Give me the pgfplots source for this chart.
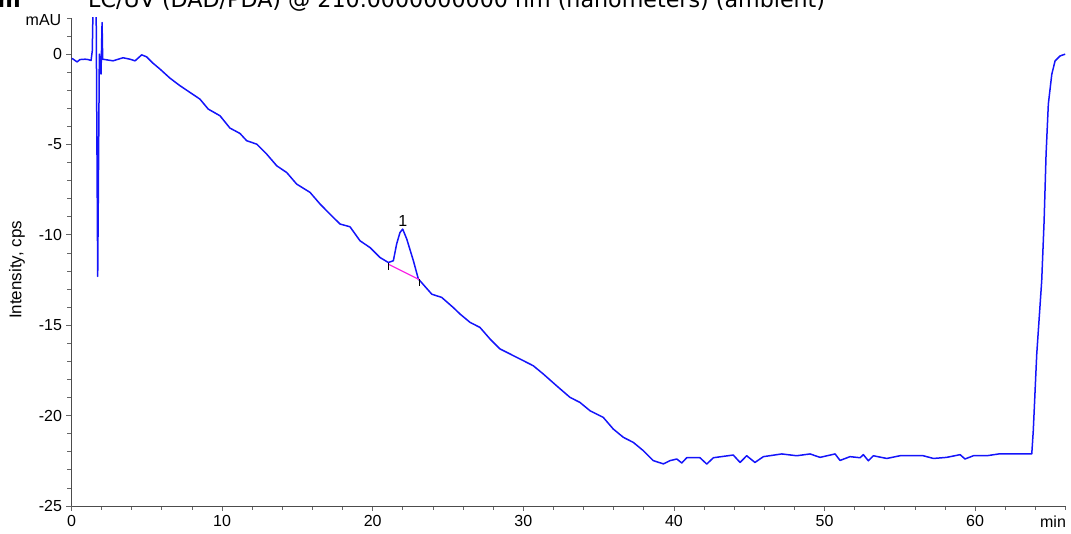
\documentclass[border=0pt]{standalone}
\usepackage{pgfplots}
\pgfplotsset{compat=1.18}
\usepackage{fontspec}
\setmainfont{Liberation Sans}
\newfontfamily\titlefont{DejaVu Sans}

\definecolor{trace}{RGB}{20,20,250}
\definecolor{base}{RGB}{250,40,230}

\begin{document}
\begin{tikzpicture}[x=1pt,y=1pt]
\begin{axis}[
    at={(71.5pt,28pt)}, anchor=south west,
    scale only axis, width=994pt, height=488pt,
    xmin=0, xmax=66, ymin=-25, ymax=2,
    axis lines=left, axis line style={-, black!70, line width=0.8pt},
    xtick={0,10,...,60}, minor xtick={0,2,...,66},
    ytick={-25,-20,...,0}, minor ytick={-25,-24,...,2},
    tick align=outside, major tick length=5pt, minor tick length=4pt,
    every tick/.style={black!60, line width=0.8pt},
    tick label style={font=\fontsize{16}{18}\selectfont},
    /pgf/number format/assume math mode=true,
    xticklabel style={yshift=-1pt},
    yticklabel style={xshift=-1pt},
    clip=true,
]
\addplot[trace, line width=1.5pt, line join=round] table {
x y
0.00 -0.24
0.08 -0.26
0.37 -0.43
0.56 -0.30
0.90 -0.28
1.10 -0.30
1.30 -0.35
1.38 0.18
1.45 3.50
1.55 3.50
1.63 3.50
1.74 -12.30
1.85 0.00
1.96 -1.10
2.03 1.75
2.07 -0.28
2.76 -0.37
3.42 -0.20
3.88 -0.28
4.22 -0.37
4.66 -0.04
4.99 -0.15
5.41 -0.50
5.88 -0.83
6.54 -1.33
7.21 -1.75
7.87 -2.12
8.53 -2.49
9.08 -3.04
9.86 -3.41
10.52 -4.09
11.19 -4.39
11.63 -4.79
12.30 -4.98
12.96 -5.53
13.63 -6.18
14.29 -6.55
14.95 -7.19
15.84 -7.65
16.50 -8.29
17.16 -8.85
17.83 -9.40
18.49 -9.55
19.16 -10.33
19.82 -10.70
20.48 -11.25
21.04 -11.53
21.37 -11.43
21.59 -10.50
21.81 -9.87
21.99 -9.68
22.26 -10.23
22.70 -11.43
23.03 -12.44
23.14 -12.54
23.92 -13.28
24.58 -13.46
25.35 -14.02
25.80 -14.38
26.46 -14.84
27.12 -15.12
27.79 -15.76
28.45 -16.31
29.12 -16.59
30.00 -16.96
30.66 -17.24
31.33 -17.70
32.21 -18.35
33.10 -18.99
33.76 -19.27
34.43 -19.73
35.31 -20.10
35.97 -20.74
36.64 -21.20
37.30 -21.48
37.97 -21.94
38.63 -22.49
39.30 -22.67
39.74 -22.49
40.19 -22.40
40.52 -22.62
40.85 -22.33
41.73 -22.33
42.18 -22.68
42.62 -22.33
43.94 -22.18
44.39 -22.59
44.83 -22.22
45.38 -22.59
45.94 -22.27
47.16 -22.12
48.15 -22.22
49.04 -22.12
49.70 -22.31
50.70 -22.12
51.03 -22.48
51.69 -22.27
52.36 -22.33
52.58 -22.16
52.91 -22.50
53.24 -22.22
54.13 -22.37
55.01 -22.22
56.56 -22.22
57.23 -22.37
58.11 -22.31
59.00 -22.16
59.33 -22.40
59.88 -22.22
60.77 -22.22
61.65 -22.11
62.54 -22.12
63.65 -22.12
63.76 -22.12
63.86 -20.84
64.09 -16.60
64.42 -12.54
64.58 -9.22
64.71 -5.53
64.86 -2.76
65.09 -1.11
65.31 -0.37
65.64 -0.10
65.98 0.00
};
% integration baseline of peak 1
\addplot[base, line width=1.2pt] table {
x y
21.04 -11.62
23.10 -12.48
};
% baseline end markers
\addplot[black, line width=0.9pt, unbounded coords=jump] table {
x y
21.04 -11.55
21.04 -11.95
nan nan
23.10 -12.45
23.10 -12.85
};
\node[anchor=south, inner sep=1pt, font=\fontsize{16}{18}\selectfont] at (axis cs:22.0,-9.6) {1};
\end{axis}
\node[anchor=east, inner sep=0pt, font=\fontsize{16}{18}\selectfont] at (61.5pt,514pt) {mAU};
\node[anchor=center, inner sep=0pt, font=\fontsize{16}{18}\selectfont] at (1053pt,12pt) {min};
\node[rotate=90, inner sep=0pt, font=\fontsize{17}{19}\selectfont] at (17pt,264pt) {Intensity, cps};
\node[anchor=base west, inner sep=0pt] at (88pt,526pt) {\titlefont\fontsize{22.2}{26}\selectfont LC/UV (DAD/PDA) @ 210.0000000000 nm (nanometers) (ambient)};
\node[anchor=base east, inner sep=0pt] at (21pt,526pt) {\titlefont\bfseries\fontsize{22.2}{26}\selectfont m};
\pgfresetboundingbox
\path[use as bounding box] (0,0) rectangle (1071pt,534pt);
\end{tikzpicture}
\end{document}
